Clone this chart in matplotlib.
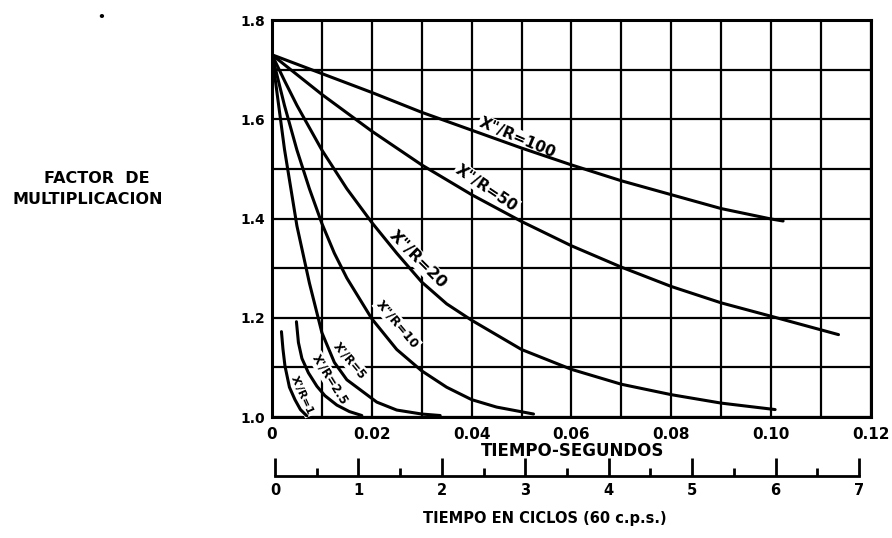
#!/usr/bin/python

import matplotlib
matplotlib.use("Agg")
import matplotlib.pyplot as plt

# curves: time in seconds vs multiplying factor
t_100 = [0, 0.01, 0.02, 0.03, 0.04, 0.05, 0.06, 0.07, 0.08, 0.09, 0.10, 0.1024]
k_100 = [1.730, 1.692, 1.654, 1.614, 1.578, 1.542, 1.508, 1.476, 1.448, 1.420, 1.399, 1.395]

t_50 = [0, 0.005, 0.01, 0.02, 0.03, 0.04, 0.05, 0.06, 0.07, 0.08, 0.09, 0.10, 0.1135]
k_50 = [1.730, 1.690, 1.650, 1.576, 1.508, 1.448, 1.394, 1.345, 1.302, 1.263, 1.230, 1.203, 1.166]

t_20 = [0, 0.0025, 0.005, 0.01, 0.015, 0.02, 0.025, 0.03, 0.035, 0.04, 0.05, 0.06, 0.07, 0.08, 0.09, 0.1008]
k_20 = [1.730, 1.678, 1.628, 1.538, 1.460, 1.392, 1.330, 1.272, 1.228, 1.195, 1.136, 1.096, 1.066, 1.045, 1.028, 1.015]

t_10 = [0, 0.0025, 0.005, 0.0075, 0.01, 0.0125, 0.015, 0.02, 0.025, 0.03, 0.035, 0.04, 0.045, 0.0524]
k_10 = [1.730, 1.628, 1.538, 1.460, 1.390, 1.330, 1.280, 1.198, 1.136, 1.093, 1.060, 1.035, 1.020, 1.006]

t_5 = [0, 0.0025, 0.005, 0.0075, 0.01, 0.0125, 0.015, 0.021, 0.025, 0.03, 0.0337]
k_5 = [1.730, 1.540, 1.385, 1.270, 1.170, 1.110, 1.075, 1.030, 1.014, 1.006, 1.003]

t_25 = [0.0049, 0.0053, 0.006, 0.0073, 0.009, 0.0106, 0.013, 0.0155, 0.018]
k_25 = [1.192, 1.150, 1.118, 1.089, 1.062, 1.043, 1.024, 1.011, 1.003]

t_1 = [0.0019, 0.0022, 0.0026, 0.0035, 0.0046, 0.0057, 0.007]
k_1 = [1.172, 1.137, 1.103, 1.060, 1.035, 1.015, 1.002]

curve_labels = ['X"/R=100', 'X"/R=50', 'X"/R=20', 'X"/R=10', "X'/R=5", "X'/R=2.5", "X'/R=1"]
label_t = [0.0492, 0.0430, 0.0293, 0.0251, 0.0155, 0.0117, 0.0060]
label_k = [1.562, 1.461, 1.317, 1.187, 1.114, 1.075, 1.043]
label_rot = [-23, -34, -45, -50, -50, -58, -66]
label_size = [11, 11, 11.5, 9, 8.5, 8.5, 8]

sec_ticks = [0, 0.02, 0.04, 0.06, 0.08, 0.10, 0.12]
sec_labels = ["0", "0.02", "0.04", "0.06", "0.08", "0.10", "0.12"]
k_ticks = [1.0, 1.2, 1.4, 1.6, 1.8]
k_labels = ["1.0", "1.2", "1.4", "1.6", "1.8"]
cycle_ticks = [0, 1, 2, 3, 4, 5, 6, 7]


def main():
  plt.rcParams['font.family'] = ['DejaVu Sans']
  plt.rcParams['font.weight'] = 'bold'
  fig = plt.figure(figsize=(8.92, 5.38), dpi=100)
  ax = fig.add_axes([0.3049, 0.2249, 0.6715, 0.7379])

  ax.set_xlim(0, 0.12)
  ax.set_ylim(1.0, 1.8)
  ax.set_xticks(sec_ticks)
  ax.set_xticklabels(sec_labels)
  ax.set_xticks([i * 0.01 for i in range(13)], minor=True)
  ax.set_yticks(k_ticks)
  ax.set_yticklabels(k_labels)
  ax.set_yticks([1.0 + i * 0.1 for i in range(9)], minor=True)
  ax.tick_params(which='both', length=0)
  ax.tick_params(axis='x', pad=7, labelsize=11)
  ax.tick_params(axis='y', pad=5, labelsize=10)
  ax.grid(which='both', color='black', linewidth=1.6, zorder=1)
  ax.set_axisbelow(True)
  for s in ax.spines.values():
    s.set_linewidth(2.2)

  series = [(t_100, k_100), (t_50, k_50), (t_20, k_20), (t_10, k_10),
            (t_5, k_5), (t_25, k_25), (t_1, k_1)]
  for t, k in series:
    ax.plot(t, k, color='black', linewidth=2.2, solid_capstyle='round', zorder=4)

  for i in range(len(curve_labels)):
    ax.text(label_t[i], label_k[i], curve_labels[i], rotation=label_rot[i],
            rotation_mode='anchor', ha='center', va='center',
            fontsize=label_size[i], fontweight='bold', zorder=3,
            bbox=dict(facecolor='white', edgecolor='none', pad=1.0))

  # second scale: cycles at 60 c.p.s.
  ax2 = fig.add_axes([0.3083, 0.1152, 0.6547, 0.02])
  ax2.set_xlim(0, 7)
  ax2.set_ylim(0, 1)
  for name in ['top', 'left', 'right']:
    ax2.spines[name].set_visible(False)
  ax2.spines['bottom'].set_linewidth(2)
  ax2.spines['bottom'].set_position(('data', 0))
  ax2.patch.set_alpha(0)
  ax2.set_yticks([])
  ax2.set_xticks(cycle_ticks)
  ax2.set_xticks([i + 0.5 for i in range(7)], minor=True)
  ax2.tick_params(axis='x', which='major', direction='in', length=13, width=2,
                  labelsize=10.5, pad=5)
  ax2.tick_params(axis='x', which='minor', direction='in', length=6, width=2)

  fig.text(573 / 892, 1 - 451 / 538, "TIEMPO-SEGUNDOS", ha='center', va='center',
           fontsize=12, fontweight='bold')
  fig.text(545 / 892, 1 - 518 / 538, "TIEMPO EN CICLOS (60 c.p.s.)", ha='center',
           va='center', fontsize=10.5, fontweight='bold')
  fig.text(97 / 892, 1 - 178 / 538, "FACTOR  DE", ha='center', va='center',
           fontsize=11.5, fontweight='bold')
  fig.text(88 / 892, 1 - 200 / 538, "MULTIPLICACION", ha='center', va='center',
           fontsize=11.5, fontweight='bold')
  fig.text(101 / 892, 1 - 18 / 538, "•", ha='center', va='center', fontsize=9)

  plt.savefig("out.png", dpi=100)


if __name__ == "__main__":
  main()
